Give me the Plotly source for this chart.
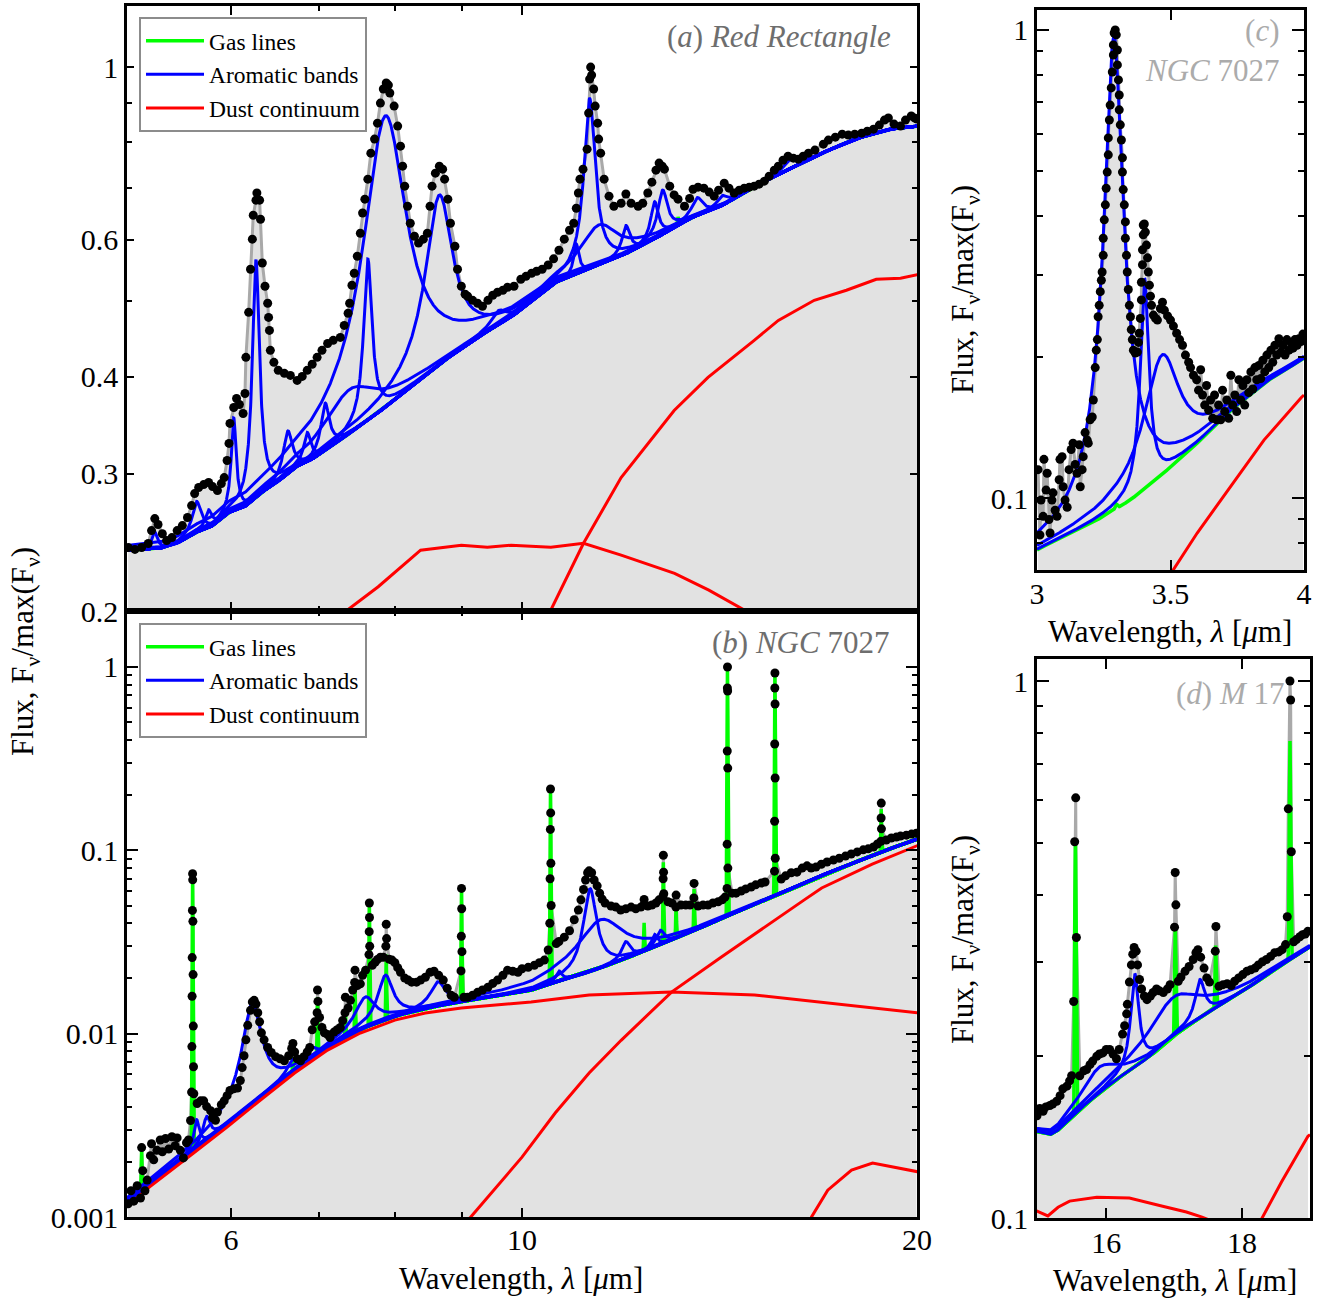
import numpy as np
import plotly.graph_objects as go

# ===================== DATA =====================
# ---- Panel (a): Red Rectangle ----
A_OBS_WL = [5.01, 5.07, 5.13, 5.19, 5.22, 5.25, 5.28, 5.32, 5.36, 5.41, 5.46, 5.51, 5.56, 5.60, 5.63, 5.67, 5.72, 5.77, 5.81, 5.86,
            5.90, 5.93, 5.96, 5.98, 5.99, 6.03, 6.06, 6.09, 6.13, 6.15, 6.16, 6.19, 6.21, 6.23, 6.24, 6.27, 6.28, 6.31, 6.32, 6.34,
            6.37, 6.40, 6.41, 6.42, 6.43, 6.47, 6.52, 6.59, 6.66, 6.74, 6.80, 6.86, 6.92, 6.98, 7.04, 7.11, 7.18, 7.27, 7.32, 7.37,
            7.39, 7.42, 7.45, 7.49, 7.53, 7.56, 7.59, 7.63, 7.67, 7.72, 7.76, 7.80, 7.84, 7.88, 7.91, 7.93, 7.99, 8.04, 8.08, 8.11,
            8.14, 8.18, 8.22, 8.28, 8.34, 8.41, 8.47, 8.51, 8.54, 8.59, 8.65, 8.70, 8.73, 8.78, 8.82, 8.89, 8.93, 8.99, 9.05, 9.09,
            9.17, 9.25, 9.33, 9.42, 9.50, 9.58, 9.67, 9.75, 9.86, 9.98, 10.07, 10.17, 10.26, 10.36, 10.47, 10.57, 10.67, 10.77, 10.87, 10.95,
            11.00, 11.04, 11.07, 11.13, 11.21, 11.24, 11.26, 11.28, 11.30, 11.34, 11.37, 11.42, 11.44, 11.48, 11.55, 11.65, 11.75, 11.90, 12.00, 12.11,
            12.26, 12.36, 12.47, 12.56, 12.65, 12.72, 12.79, 12.84, 12.96, 13.06, 13.15, 13.30, 13.42, 13.50, 13.62, 13.76, 13.89, 14.01, 14.12, 14.26,
            14.38, 14.51, 14.64, 14.77, 14.90, 15.03, 15.16, 15.30, 15.43, 15.57, 15.68, 15.81, 15.95, 16.10, 16.24, 16.38, 16.53, 16.72, 16.97, 17.12,
            17.33, 17.54, 17.73, 17.93, 18.15, 18.33, 18.53, 18.72, 18.89, 19.02, 19.21, 19.43, 19.60, 19.80, 19.92, 20.0]
A_OBS_FLUX = [0.2413, 0.240, 0.2413, 0.2442, 0.2537, 0.2629, 0.2583, 0.2514, 0.2463, 0.2485, 0.2537, 0.2575, 0.2637, 0.2732, 0.2831, 0.2882, 0.2907, 0.2925, 0.289, 0.2857,
              0.2916, 0.2968, 0.3122, 0.3284, 0.3484, 0.3652, 0.3751, 0.3685, 0.3588, 0.3806, 0.4236, 0.4840, 0.5498, 0.6009, 0.6450, 0.6744, 0.689, 0.6744, 0.6375, 0.5600,
              0.5228, 0.4971, 0.4768, 0.4588, 0.4325, 0.4174, 0.4076, 0.4040, 0.4016, 0.3957, 0.4004, 0.4076, 0.415, 0.4236, 0.4325, 0.4414, 0.4455, 0.4494, 0.4656, 0.4826,
              0.4971, 0.5244, 0.5433, 0.5713, 0.6115, 0.6494, 0.6764, 0.7177, 0.7751, 0.808, 0.8471, 0.8989, 0.937, 0.9538, 0.948, 0.926, 0.891, 0.8397, 0.7913, 0.7458,
              0.703, 0.6625, 0.63, 0.6062, 0.5942, 0.6009, 0.6115, 0.6625, 0.703, 0.7305, 0.7458, 0.7392, 0.7177, 0.6764, 0.63, 0.5884, 0.5498, 0.5228, 0.5106, 0.5075,
              0.5015, 0.4971, 0.4927, 0.5015, 0.509, 0.5136, 0.5167, 0.5212, 0.5228, 0.5337, 0.5384, 0.5433, 0.5465, 0.5498, 0.5567, 0.567, 0.5815, 0.6009, 0.617, 0.63,
              0.6586, 0.689, 0.7177, 0.7392, 0.7843, 0.8727, 0.9651, 1.0, 0.9766, 0.937, 0.891, 0.8471, 0.808, 0.7751, 0.7177, 0.6825, 0.6625, 0.6684, 0.6868, 0.6684,
              0.6625, 0.6684, 0.689, 0.7114, 0.737, 0.7527, 0.7458, 0.7392, 0.703, 0.685, 0.6764, 0.6625, 0.678, 0.6967, 0.7009, 0.6988, 0.6908, 0.6825, 0.6947, 0.7093,
              0.6988, 0.689, 0.6947, 0.6988, 0.7009, 0.703, 0.7072, 0.7135, 0.724, 0.737, 0.7458, 0.759, 0.768, 0.7637, 0.7614, 0.768, 0.7751, 0.7822, 0.796, 0.8056,
              0.8127, 0.82, 0.8176, 0.82, 0.8224, 0.8273, 0.8322, 0.8423, 0.8547, 0.860, 0.8448, 0.8397, 0.8547, 0.8651, 0.860, 0.8574]
A_CONT_WL = [5.0, 5.30, 5.46, 5.62, 5.79, 5.96, 6.14, 6.32, 6.51, 6.71, 6.90, 7.32, 7.76, 8.22, 8.73, 9.25, 9.81, 10.58, 11.23,
             11.90, 12.61, 13.39, 14.19, 15.04, 15.97, 16.92, 17.93, 19.04, 20.07]
A_CONT_FLUX = [0.2394, 0.2408, 0.2444, 0.2518, 0.2563, 0.2672, 0.2719, 0.2835, 0.2928, 0.306, 0.3125, 0.3345, 0.359, 0.388, 0.420, 0.4497, 0.477, 0.528, 0.550,
               0.5715, 0.601, 0.638, 0.663, 0.703, 0.739, 0.775, 0.808, 0.832, 0.840]
A_BAND_CENTER = [5.25, 5.65, 5.77, 6.03, 6.27, 6.63, 6.86, 7.08, 7.40, 7.63, 7.87, 8.65, 9.6, 11.0, 11.26, 11.45, 12.0, 12.62, 12.80, 13.6, 14.2, 16.0]
A_BAND_FWHM = [0.06, 0.10, 0.08, 0.06, 0.08, 0.12, 0.10, 0.12, 0.8, 0.12, 0.6, 0.45, 0.3, 0.12, 0.24, 0.9, 0.2, 0.2, 0.25, 0.3, 0.3, 0.4]
A_BAND_PEAK = [0.012, 0.024, 0.014, 0.085, 0.285, 0.04, 0.028, 0.048, 0.047, 0.215, 0.50, 0.27, 0.02, 0.05, 0.36, 0.07, 0.05, 0.07, 0.085, 0.035, 0.02, 0.02]
A_GAS_CENTER = [13.15]
A_GAS_FWHM = [0.03]
A_GAS_PEAK = [0.015]
A_DUST1_WL = [7.2, 7.36, 7.77, 8.37, 8.99, 9.41, 9.81, 10.52, 11.14, 11.90, 13.07, 13.88, 14.77, 15.3]
A_DUST1_FLUX = [0.195, 0.2006, 0.2149, 0.2394, 0.243, 0.2415, 0.243, 0.2415, 0.2444, 0.236, 0.2236, 0.2127, 0.2006, 0.192]
A_DUST2_WL = [10.2, 10.52, 11.14, 11.90, 13.06, 13.86, 15.03, 15.68, 16.70, 17.67, 18.62, 19.43, 20.07]
A_DUST2_FLUX = [0.188, 0.2006, 0.2444, 0.2968, 0.362, 0.3992, 0.4455, 0.4726, 0.5015, 0.5167, 0.5337, 0.5352, 0.5416]

# ---- Panel (b): NGC 7027 (5-20 um) ----
B_OBS_WL = [5.01, 5.035, 5.06, 5.09, 5.12, 5.13, 5.14, 5.16, 5.18, 5.21, 5.22, 5.24, 5.27, 5.30, 5.32, 5.35, 5.38, 5.41, 5.44, 5.46,
            5.49, 5.52, 5.55, 5.57, 5.59, 5.600, 5.603, 5.605, 5.606, 5.608, 5.610, 5.611, 5.613, 5.615, 5.617, 5.619, 5.622, 5.655, 5.69, 5.72,
            5.75, 5.79, 5.81, 5.84, 5.86, 5.90, 5.93, 5.96, 5.99, 6.03, 6.07, 6.10, 6.12, 6.14, 6.16, 6.18, 6.21, 6.23, 6.25, 6.27,
            6.29, 6.31, 6.33, 6.36, 6.40, 6.44, 6.49, 6.54, 6.59, 6.64, 6.675, 6.69, 6.71, 6.74, 6.78, 6.82, 6.86, 6.89, 6.92, 6.95,
            6.980, 6.985, 6.990, 7.01, 7.04, 7.07, 7.11, 7.14, 7.19, 7.23, 7.27, 7.30, 7.330, 7.335, 7.37, 7.40, 7.43, 7.455, 7.46, 7.49,
            7.53, 7.56, 7.60, 7.645, 7.648, 7.650, 7.652, 7.655, 7.69, 7.73, 7.76, 7.80, 7.84, 7.875, 7.880, 7.885, 7.92, 7.96, 8.00, 8.04,
            8.08, 8.14, 8.19, 8.24, 8.31, 8.37, 8.44, 8.51, 8.57, 8.64, 8.71, 8.77, 8.83, 8.88, 8.985, 8.990, 8.993, 8.996, 9.000, 9.03,
            9.09, 9.17, 9.25, 9.33, 9.42, 9.50, 9.58, 9.67, 9.75, 9.84, 9.93, 10.00, 10.11, 10.22, 10.31, 10.40, 10.47, 10.500, 10.505, 10.510,
            10.513, 10.516, 10.520, 10.525, 10.62, 10.67, 10.77, 10.87, 10.96, 11.04, 11.09, 11.14, 11.18, 11.22, 11.25, 11.30, 11.35, 11.41, 11.46, 11.51,
            11.57, 11.69, 11.79, 11.89, 12.00, 12.11, 12.21, 12.32, 12.385, 12.39, 12.47, 12.56, 12.65, 12.72, 12.805, 12.810, 12.815, 12.820, 12.825, 12.92,
            13.01, 13.10, 13.105, 13.22, 13.33, 13.43, 13.520, 13.525, 13.62, 13.74, 13.86, 13.98, 14.11, 14.21, 14.28, 14.330, 14.333, 14.336, 14.339, 14.342,
            14.345, 14.348, 14.351, 14.46, 14.56, 14.69, 14.81, 14.95, 15.07, 15.22, 15.32, 15.575, 15.578, 15.581, 15.584, 15.587, 15.590, 15.593, 15.596, 15.76,
            15.88, 16.04, 16.20, 16.35, 16.49, 16.61, 16.75, 16.91, 17.08, 17.27, 17.45, 17.64, 17.82, 18.01, 18.20, 18.36, 18.53, 18.66, 18.775, 18.780,
            18.785, 18.790, 18.95, 19.12, 19.29, 19.43, 19.63, 19.81, 19.98]
B_OBS_FLUX = [0.00118, 0.00139, 0.00122, 0.00148, 0.00127, 0.00239, 0.00179, 0.00139, 0.00159, 0.00216, 0.00251, 0.00205, 0.00231, 0.00263, 0.00227, 0.00268, 0.00235, 0.00274, 0.00245, 0.00270,
              0.00231, 0.00210, 0.00254, 0.00263, 0.00336, 0.0048, 0.0085, 0.016, 0.026, 0.047, 0.0745, 0.069, 0.041, 0.021, 0.011, 0.0066, 0.0047, 0.00416, 0.00430, 0.00430,
              0.00400, 0.00380, 0.00348, 0.00337, 0.00374, 0.00410, 0.00430, 0.00459, 0.00490, 0.00500, 0.00505, 0.00555, 0.00653, 0.00758, 0.00925, 0.0111, 0.0134, 0.0149, 0.0152, 0.0145,
              0.0130, 0.0116, 0.0101, 0.00925, 0.0084, 0.0079, 0.00749, 0.0073, 0.00711, 0.00758, 0.0083, 0.00885, 0.00795, 0.0073, 0.00711, 0.00749, 0.00795, 0.0084, 0.0105, 0.0116,
              0.0130, 0.0173, 0.0150, 0.01226, 0.0108, 0.0101, 0.0099, 0.00953, 0.0102, 0.0105, 0.0108, 0.0118, 0.0130, 0.0158, 0.0138, 0.0152, 0.0173, 0.0190, 0.0222, 0.0183,
              0.0187, 0.0208, 0.0222, 0.027, 0.036, 0.0516, 0.043, 0.030, 0.0236, 0.0246, 0.0254, 0.0261, 0.0261, 0.030, 0.0395, 0.033, 0.0255, 0.0252, 0.0244, 0.0229,
              0.0216, 0.0201, 0.0196, 0.0191, 0.0191, 0.0196, 0.0203, 0.0216, 0.0219, 0.0208, 0.0196, 0.0177, 0.0162, 0.0158, 0.022, 0.034, 0.062, 0.048, 0.028, 0.0158,
              0.0158, 0.0162, 0.0168, 0.0173, 0.0179, 0.0188, 0.0196, 0.0208, 0.0222, 0.0219, 0.0216, 0.0226, 0.0230, 0.0236, 0.0244, 0.0252, 0.0286, 0.040, 0.070, 0.13,
              0.216, 0.16, 0.085, 0.050, 0.0310, 0.0318, 0.0336, 0.0364, 0.0418, 0.0472, 0.0537, 0.0611, 0.0689, 0.0755, 0.0773, 0.0755, 0.0689, 0.0640, 0.0584, 0.0542,
              0.0516, 0.0497, 0.0490, 0.0472, 0.0480, 0.0490, 0.0480, 0.0490, 0.0505, 0.054, 0.0497, 0.0503, 0.0516, 0.0537, 0.056, 0.070, 0.094, 0.076, 0.058, 0.0524,
              0.0516, 0.049, 0.057, 0.0503, 0.0503, 0.0503, 0.055, 0.066, 0.0497, 0.0503, 0.0503, 0.0516, 0.0524, 0.0537, 0.0556, 0.062, 0.108, 0.348, 0.768, 1.0,
              0.740, 0.281, 0.080, 0.0584, 0.0584, 0.060, 0.0616, 0.0631, 0.0648, 0.0663, 0.0672, 0.077, 0.144, 0.380, 0.768, 0.927, 0.628, 0.248, 0.0905, 0.0697,
              0.0726, 0.0755, 0.0760, 0.0800, 0.0823, 0.0800, 0.081, 0.0839, 0.0864, 0.0885, 0.0905, 0.0930, 0.0955, 0.0980, 0.1006, 0.1019, 0.1042, 0.1083, 0.112, 0.150,
              0.181, 0.131, 0.1138, 0.1167, 0.1181, 0.1196, 0.1210, 0.1226, 0.1240]
B_CONT_WL = [5.0, 5.2, 5.62, 5.96, 6.32, 6.71, 7.11, 7.53, 8.0, 8.44, 8.99, 9.53, 10.16, 10.6, 11.25, 11.9, 12.61, 13.39, 14.19,
             15.04, 16.0, 17.0, 18.0, 19.0, 20.07]
B_CONT_FLUX = [0.00122, 0.00152, 0.00232, 0.00322, 0.00452, 0.00635, 0.0085, 0.0106, 0.0125, 0.0138, 0.0150, 0.0160, 0.0173, 0.0192, 0.0217, 0.0252, 0.0297, 0.0354, 0.0425,
               0.051, 0.061, 0.074, 0.087, 0.101, 0.116]
B_BAND_CENTER = [5.65, 5.75, 6.23, 6.69, 6.92, 7.60, 7.87, 8.63, 10.67, 11.27, 11.50, 12.0, 12.62, 12.75]
B_BAND_FWHM = [0.06, 0.08, 0.20, 0.15, 0.12, 0.30, 0.22, 0.25, 0.12, 0.25, 1.0, 0.2, 0.15, 0.2]
B_BAND_PEAK = [0.0010, 0.0009, 0.0105, 0.0010, 0.0010, 0.0050, 0.0089, 0.0050, 0.0025, 0.040, 0.019, 0.006, 0.005, 0.006]
B_GAS_CENTER = [5.13, 5.610, 6.69, 6.985, 7.335, 7.46, 7.650, 7.880, 8.993, 10.513, 12.39, 12.815, 13.105, 13.525, 14.341, 15.586, 18.783]
B_GAS_PEAK = [0.0009, 0.070, 0.0012, 0.008, 0.004, 0.008, 0.040, 0.015, 0.048, 0.190, 0.012, 0.055, 0.018, 0.025, 0.94, 0.86, 0.07]
B_DUST1_WL = [5.0, 5.2, 5.62, 5.96, 6.32, 6.71, 7.11, 7.53, 8.0, 8.44, 8.99, 9.53, 10.16, 11.25, 13.0, 15.04, 16.92, 20.07]
B_DUST1_FLUX = [0.00114, 0.001456, 0.002233, 0.003094, 0.004345, 0.0061, 0.00814, 0.01008, 0.01186, 0.01296, 0.0138, 0.01432, 0.01487, 0.01625, 0.01686, 0.01625, 0.01487, 0.01296]
B_DUST2_WL = [9.0, 9.14, 10.0, 10.6, 11.25, 11.9, 13.0, 14.19, 16.4, 16.92, 18.49, 20.07]
B_DUST2_FLUX = [0.0009, 0.001, 0.00212, 0.00369, 0.0061, 0.0092, 0.01686, 0.0262, 0.0535, 0.0623, 0.084, 0.107]
B_DUST3_WL = [16.5, 16.62, 17.1, 17.83, 18.5, 20.07]
B_DUST3_FLUX = [0.0009, 0.001, 0.0014, 0.0018, 0.00197, 0.00176]

# ---- Panel (c): NGC 7027 (3-4 um) ----
C_OBS_WL = [3.004, 3.011, 3.015, 3.023, 3.026, 3.034, 3.038, 3.045, 3.049, 3.056, 3.060, 3.068, 3.075, 3.083, 3.086, 3.094, 3.098, 3.105, 3.113, 3.120,
            3.128, 3.135, 3.143, 3.150, 3.158, 3.162, 3.169, 3.173, 3.180, 3.188, 3.192, 3.199, 3.207, 3.211, 3.218, 3.222, 3.226, 3.229, 3.233, 3.237,
            3.241, 3.244, 3.248, 3.248, 3.252, 3.256, 3.259, 3.263, 3.267, 3.267, 3.271, 3.274, 3.278, 3.282, 3.286, 3.286, 3.289, 3.293, 3.297, 3.301,
            3.301, 3.305, 3.308, 3.308, 3.312, 3.316, 3.320, 3.320, 3.323, 3.327, 3.331, 3.331, 3.335, 3.338, 3.342, 3.346, 3.350, 3.353, 3.357, 3.361,
            3.368, 3.376, 3.380, 3.383, 3.387, 3.391, 3.391, 3.395, 3.395, 3.398, 3.398, 3.402, 3.406, 3.410, 3.414, 3.417, 3.421, 3.425, 3.429, 3.436,
            3.444, 3.451, 3.462, 3.470, 3.477, 3.489, 3.500, 3.511, 3.523, 3.534, 3.545, 3.556, 3.568, 3.575, 3.586, 3.598, 3.605, 3.613, 3.620, 3.628,
            3.635, 3.643, 3.650, 3.658, 3.665, 3.673, 3.680, 3.688, 3.695, 3.703, 3.711, 3.718, 3.726, 3.733, 3.741, 3.748, 3.756, 3.763, 3.771, 3.778,
            3.786, 3.793, 3.801, 3.808, 3.816, 3.823, 3.831, 3.838, 3.846, 3.853, 3.861, 3.868, 3.876, 3.883, 3.891, 3.898, 3.906, 3.914, 3.921, 3.929,
            3.936, 3.944, 3.951, 3.959, 3.966, 3.974, 3.981, 3.989, 3.996]
C_OBS_FLUX = [0.115, 0.0834, 0.0990, 0.0914, 0.121, 0.104, 0.113, 0.0900, 0.0842, 0.099, 0.1026, 0.0942, 0.0914, 0.1094, 0.121, 0.1226, 0.1057, 0.099, 0.0956, 0.115,
              0.127, 0.131, 0.118, 0.113, 0.130, 0.1057, 0.115, 0.1226, 0.138, 0.133, 0.131, 0.147, 0.149, 0.162, 0.190, 0.207, 0.218, 0.244, 0.258, 0.276,
              0.292, 0.304, 0.330, 0.359, 0.393, 0.423, 0.459, 0.497, 0.541, 0.588, 0.642, 0.691, 0.752, 0.813, 0.884, 0.929, 0.985, 1.0, 0.976, 0.906,
              0.842, 0.782, 0.726, 0.675, 0.627, 0.582, 0.533, 0.497, 0.456, 0.423, 0.389, 0.359, 0.330, 0.304, 0.279, 0.258, 0.244, 0.229, 0.218, 0.207,
              0.204, 0.205, 0.215, 0.225, 0.242, 0.265, 0.289, 0.315, 0.339, 0.365, 0.383, 0.385, 0.370, 0.347, 0.326, 0.304, 0.285, 0.270, 0.258, 0.246,
              0.242, 0.240, 0.254, 0.262, 0.252, 0.245, 0.240, 0.233, 0.225, 0.218, 0.212, 0.202, 0.195, 0.190, 0.183, 0.179, 0.170, 0.188, 0.166, 0.158,
              0.174, 0.154, 0.162, 0.148, 0.166, 0.147, 0.158, 0.147, 0.170, 0.153, 0.162, 0.148, 0.183, 0.158, 0.166, 0.153, 0.179, 0.162, 0.174, 0.158,
              0.179, 0.168, 0.186, 0.171, 0.190, 0.179, 0.192, 0.180, 0.197, 0.186, 0.202, 0.190, 0.207, 0.195, 0.212, 0.202, 0.219, 0.205, 0.212, 0.202,
              0.218, 0.207, 0.215, 0.209, 0.218, 0.212, 0.219, 0.216, 0.224]
C_CONT_WL = [3.0, 3.011, 3.098, 3.226, 3.35, 3.474, 3.60, 3.726, 3.85, 3.99, 4.0]
C_CONT_FLUX = [0.0775, 0.0782, 0.0825, 0.0898, 0.099, 0.113, 0.131, 0.154, 0.176, 0.197, 0.199]
C_BAND_CENTER = [3.288, 3.403, 3.47]
C_BAND_FWHM = [0.053, 0.030, 0.14]
C_BAND_PEAK = [0.88, 0.19, 0.09]
C_GAS_CENTER = [3.297]
C_GAS_FWHM = [0.01]
C_GAS_PEAK = [0.002]
C_DUST_WL = [3.49, 3.51, 3.60, 3.726, 3.85, 3.99, 4.0]
C_DUST_FLUX = [0.067, 0.0702, 0.0842, 0.1057, 0.133, 0.164, 0.166]

# ---- Panel (d): M 17 (15-19 um) ----
D_OBS_WL = [14.98, 15.02, 15.07, 15.11, 15.17, 15.21, 15.27, 15.32, 15.36, 15.42, 15.46, 15.49, 15.52, 15.535, 15.55, 15.56, 15.61, 15.67, 15.71, 15.76,
            15.80, 15.86, 15.90, 15.95, 16.00, 16.05, 16.10, 16.15, 16.19, 16.24, 16.27, 16.30, 16.31, 16.34, 16.37, 16.39, 16.41, 16.44, 16.46, 16.49,
            16.52, 16.56, 16.60, 16.65, 16.69, 16.74, 16.78, 16.84, 16.90, 16.94, 17.005, 17.015, 17.025, 17.06, 17.10, 17.16, 17.22, 17.28, 17.32, 17.35,
            17.39, 17.44, 17.48, 17.52, 17.605, 17.615, 17.66, 17.72, 17.78, 17.84, 17.89, 17.95, 18.01, 18.07, 18.13, 18.19, 18.24, 18.30, 18.36, 18.42,
            18.48, 18.54, 18.59, 18.64, 18.665, 18.68, 18.705, 18.715, 18.725, 18.76, 18.80, 18.85, 18.89, 18.93, 18.97]
D_OBS_FLUX = [0.155, 0.160, 0.158, 0.161, 0.162, 0.163, 0.165, 0.169, 0.174, 0.176, 0.180, 0.184, 0.253, 0.502, 0.606, 0.333, 0.184, 0.188, 0.189, 0.193,
              0.196, 0.200, 0.202, 0.203, 0.206, 0.206, 0.202, 0.198, 0.206, 0.220, 0.228, 0.240, 0.250, 0.275, 0.296, 0.310, 0.319, 0.314, 0.296, 0.278,
              0.267, 0.259, 0.255, 0.259, 0.263, 0.267, 0.265, 0.263, 0.267, 0.272, 0.348, 0.440, 0.383, 0.276, 0.281, 0.288, 0.294, 0.303, 0.312, 0.316,
              0.306, 0.292, 0.280, 0.275, 0.314, 0.349, 0.270, 0.272, 0.273, 0.271, 0.276, 0.280, 0.284, 0.288, 0.290, 0.292, 0.296, 0.300, 0.303, 0.307,
              0.312, 0.313, 0.316, 0.323, 0.364, 0.578, 1.0, 0.922, 0.481, 0.327, 0.330, 0.334, 0.337, 0.338, 0.342]
D_CONT_WL = [14.98, 15.17, 15.27, 15.61, 16.09, 16.59, 17.07, 17.56, 18.06, 18.54, 18.93, 19.0]
D_CONT_FLUX = [0.145, 0.143, 0.145, 0.1595, 0.179, 0.1975, 0.222, 0.2445, 0.2665, 0.294, 0.316, 0.320]
D_BAND_CENTER = [15.9, 16.42, 17.0, 17.38]
D_BAND_FWHM = [0.6, 0.13, 0.9, 0.16]
D_BAND_PEAK = [0.02, 0.094, 0.04, 0.042]
D_GAS_CENTER = [15.545, 17.015, 17.61, 18.705]
D_GAS_FWHM = [0.02, 0.02, 0.02, 0.02]
D_GAS_PEAK = [0.35, 0.13, 0.075, 0.47]
D_DUST1_WL = [14.9, 14.98, 15.14, 15.29, 15.46, 15.86, 16.34, 16.83, 17.18, 17.41, 17.7]
D_DUST1_FLUX = [0.1040, 0.1030, 0.1009, 0.1047, 0.1075, 0.1093, 0.1089, 0.1052, 0.1026, 0.1004, 0.097]
D_DUST2_WL = [18.2, 18.29, 18.58, 18.97, 19.0]
D_DUST2_FLUX = [0.095, 0.0998, 0.1167, 0.142, 0.143]

# ===================== STYLE =====================
SERIF = "Liberation Serif"
GREEN, BLUE, RED = "#00ff00", "#0000ff", "#ff0000"
FILL, DATALINE = "#e2e2e2", "#a9a9a9"
W, H = 1323, 1299
TICK_SIZE, TITLE_SIZE, LABEL_SIZE = 30, 31, 31


def drude(wl, c, fwhm, peak):
    g = fwhm / c
    return peak * g ** 2 / ((wl / c - c / wl) ** 2 + g ** 2)


def gauss(wl, c, fwhm, peak):
    s = fwhm / 2.3548
    return peak * np.exp(-0.5 * ((wl - c) / s) ** 2)


def make_cont(cw, cf):
    lw, lf = np.log(np.asarray(cw)), np.log(np.asarray(cf))
    return lambda wl: np.exp(np.interp(np.log(wl), lw, lf))


fig = go.Figure()


def add_panel(xa, ya, obs_wl, obs_fl, cont_wl, cont_fl, bands, gases, dusts, grid, floor, legend=None):
    wl = np.asarray(obs_wl, float)
    fl = np.asarray(obs_fl, float)
    o = np.argsort(wl, kind="stable")
    wl, fl = wl[o], fl[o]
    cont = make_cont(cont_wl, cont_fl)
    common = dict(xaxis=xa, yaxis=ya, hoverinfo="skip")
    # filled area under the spectrum
    fig.add_trace(go.Scatter(x=[wl[0], wl[-1]], y=[floor, floor], mode="lines",
                             line=dict(width=0, color=FILL), showlegend=False, **common))
    fig.add_trace(go.Scatter(x=wl, y=fl, mode="lines", fill="tonexty", fillcolor=FILL,
                             line=dict(color=DATALINE, width=3), showlegend=False, **common))
    # gas lines
    for i, (c, fw, pk) in enumerate(gases):
        g = np.unique(np.concatenate([grid, c + np.linspace(-3 * fw, 3 * fw, 61)]))
        g = g[(g >= grid[0]) & (g <= grid[-1])]
        fig.add_trace(go.Scatter(x=g, y=cont(g) + gauss(g, c, fw, pk), mode="lines",
                                 line=dict(color=GREEN, width=3.5), name="Gas lines",
                                 showlegend=(legend is not None and i == 0), legend=legend or "legend",
                                 legendrank=1, **common))
    # aromatic bands
    for i, (c, fw, pk) in enumerate(bands):
        fig.add_trace(go.Scatter(x=grid, y=cont(grid) + drude(grid, c, fw, pk), mode="lines",
                                 line=dict(color=BLUE, width=3), name="Aromatic bands",
                                 showlegend=(legend is not None and i == 0), legend=legend or "legend",
                                 legendrank=2, **common))
    # dust continuum components
    for i, (dw, df) in enumerate(dusts):
        fig.add_trace(go.Scatter(x=dw, y=df, mode="lines", line=dict(color=RED, width=3),
                                 name="Dust continuum",
                                 showlegend=(legend is not None and i == 0), legend=legend or "legend",
                                 legendrank=3, **common))
    # observed points
    fig.add_trace(go.Scatter(x=wl, y=fl, mode="markers", marker=dict(color="black", size=9),
                             showlegend=False, **common))


grid_ab = np.geomspace(5.0, 20.0, 4000)
add_panel("x", "y", A_OBS_WL, A_OBS_FLUX, A_CONT_WL, A_CONT_FLUX,
          list(zip(A_BAND_CENTER, A_BAND_FWHM, A_BAND_PEAK)),
          list(zip(A_GAS_CENTER, A_GAS_FWHM, A_GAS_PEAK)),
          [(A_DUST1_WL, A_DUST1_FLUX), (A_DUST2_WL, A_DUST2_FLUX)],
          grid_ab, 0.1, legend="legend")
add_panel("x2", "y2", B_OBS_WL, B_OBS_FLUX, B_CONT_WL, B_CONT_FLUX,
          list(zip(B_BAND_CENTER, B_BAND_FWHM, B_BAND_PEAK)),
          [(c, 0.0015 * c, p) for c, p in zip(B_GAS_CENTER, B_GAS_PEAK)],
          [(B_DUST1_WL, B_DUST1_FLUX), (B_DUST2_WL, B_DUST2_FLUX), (B_DUST3_WL, B_DUST3_FLUX)],
          grid_ab, 1e-4, legend="legend2")
add_panel("x3", "y3", C_OBS_WL, C_OBS_FLUX, C_CONT_WL, C_CONT_FLUX,
          list(zip(C_BAND_CENTER, C_BAND_FWHM, C_BAND_PEAK)),
          list(zip(C_GAS_CENTER, C_GAS_FWHM, C_GAS_PEAK)),
          [(C_DUST_WL, C_DUST_FLUX)],
          np.linspace(3.0, 4.0, 2000), 0.03)
add_panel("x4", "y4", D_OBS_WL, D_OBS_FLUX, D_CONT_WL, D_CONT_FLUX,
          list(zip(D_BAND_CENTER, D_BAND_FWHM, D_BAND_PEAK)),
          list(zip(D_GAS_CENTER, D_GAS_FWHM, D_GAS_PEAK)),
          [(D_DUST1_WL, D_DUST1_FLUX), (D_DUST2_WL, D_DUST2_FLUX)],
          np.linspace(14.98, 19.0, 2000), 0.05)


def ax(**kw):
    base = dict(showline=True, linecolor="black", linewidth=2.5, mirror="allticks", ticks="inside",
                tickwidth=2, tickcolor="black", ticklen=9, showgrid=False, zeroline=False, automargin=False,
                tickfont=dict(family=SERIF, size=TICK_SIZE, color="black"), tickmode="array")
    base.update(kw)
    return base


def minor(vals, n=5):
    return dict(tickmode="array", tickvals=vals, ticks="inside", ticklen=n, tickwidth=1.5, tickcolor="black")


def px_x(p):
    return p / W


def px_y(p):
    return 1 - p / H


log_minor_b = [k * 10.0 ** e for e in (-3, -2, -1) for k in range(2, 10)]
sub_minor = [0.2, 0.3, 0.4, 0.5, 0.6, 0.7, 0.8, 0.9]
leg_style = dict(xanchor="left", yanchor="top", bgcolor="rgba(255,255,255,0.9)", traceorder="normal",
                 bordercolor="#8c8c8c", borderwidth=2, font=dict(family=SERIF, size=23.5, color="black"),
                 itemwidth=58, tracegroupgap=2)

fig.update_layout(
    width=W, height=H, margin=dict(l=0, r=0, t=0, b=0, autoexpand=False),
    paper_bgcolor="white", plot_bgcolor="white",
    font=dict(family=SERIF, color="black"),
    xaxis=ax(type="log", range=[np.log10(5), np.log10(20)], domain=[px_x(127), px_x(917)], anchor="y",
             tickvals=[6, 10, 20], ticktext=["6", "10", "20"], showticklabels=False, minor=minor([7, 8, 9])),
    yaxis=ax(type="log", range=[np.log10(0.2), np.log10(1.198)], domain=[px_y(611), px_y(6)], anchor="x",
             tickvals=[0.2, 0.3, 0.4, 0.6, 1], ticktext=["0.2", "0.3", "0.4", "0.6", "1"], ticklen=7,
             minor=minor([0.5, 0.7, 0.8, 0.9])),
    xaxis2=ax(type="log", range=[np.log10(5), np.log10(20)], domain=[px_x(127), px_x(917)], anchor="y2",
              tickvals=[6, 10, 20], ticktext=["6", "10", "20"], minor=minor([7, 8, 9]), ticklabelstandoff=-6),
    yaxis2=ax(type="log", range=[-3, np.log10(2.02)], domain=[px_y(1217), px_y(611)], anchor="x2",
              tickvals=[0.001, 0.01, 0.1, 1], ticktext=["0.001", "0.01", "0.1", "1"], ticklen=11,
              minor=minor(log_minor_b)),
    xaxis3=ax(range=[3.0, 4.0], domain=[px_x(1037), px_x(1304)], anchor="y3",
              tickvals=[3, 3.5, 4], ticktext=["3", "3.5", "4"], ticklen=10, ticklabelstandoff=-5),
    yaxis3=ax(type="log", range=[np.log10(0.0702), np.log10(1.103)], domain=[px_y(570), px_y(10)], anchor="x3",
              tickvals=[0.1, 1], ticktext=["0.1", "1"], ticklen=12, minor=minor([0.08, 0.09] + sub_minor, 6)),
    xaxis4=ax(range=[14.98, 19.0], domain=[px_x(1037), px_x(1310)], anchor="y4",
              tickvals=[16, 18], ticktext=["16", "18"], ticklen=10, ticklabelstandoff=-4),
    yaxis4=ax(type="log", range=[-1, np.log10(1.099)], domain=[px_y(1218), px_y(659)], anchor="x4",
              tickvals=[0.1, 1], ticktext=["0.1", "1"], ticklen=12, minor=minor(sub_minor, 6)),
    legend=dict(x=px_x(139), y=px_y(17), **leg_style),
    legend2=dict(x=px_x(139), y=px_y(623), **leg_style),
)

ann = []
# panel labels
ann.append(dict(text="(<i>a</i>) <i>Red Rectangle</i>", x=px_x(893), y=px_y(36), xanchor="right", yanchor="middle",
                font=dict(family=SERIF, size=LABEL_SIZE, color="#6e6e6e")))
ann.append(dict(text="(<i>b</i>) <i>NGC</i> 7027", x=px_x(891), y=px_y(642), xanchor="right", yanchor="middle",
                font=dict(family=SERIF, size=LABEL_SIZE, color="#6e6e6e")))
ann.append(dict(text="(<i>c</i>)<br><i>NGC</i> 7027", x=px_x(1282), y=px_y(50), xanchor="right", yanchor="middle",
                align="right", font=dict(family=SERIF, size=LABEL_SIZE, color="#ababab")))
ann.append(dict(text="(<i>d</i>) <i>M</i> 17", x=px_x(1286), y=px_y(693), xanchor="right", yanchor="middle",
                font=dict(family=SERIF, size=LABEL_SIZE, color="#ababab")))
# axis titles
ytitle = "Flux, F<sub>ν</sub>/max(F<sub>ν</sub>)"
xtitle = "Wavelength, <i>λ</i> [<i>μ</i>m]"
ann.append(dict(text=ytitle, x=px_x(25), y=px_y(652), textangle=-90, xanchor="center", yanchor="middle",
                font=dict(family=SERIF, size=TITLE_SIZE, color="black")))
ann.append(dict(text=ytitle, x=px_x(965), y=px_y(290), textangle=-90, xanchor="center", yanchor="middle",
                font=dict(family=SERIF, size=TITLE_SIZE, color="black")))
ann.append(dict(text=ytitle, x=px_x(965), y=px_y(940), textangle=-90, xanchor="center", yanchor="middle",
                font=dict(family=SERIF, size=TITLE_SIZE, color="black")))
ann.append(dict(text=xtitle, x=px_x(521), y=px_y(1278), xanchor="center", yanchor="middle",
                font=dict(family=SERIF, size=TITLE_SIZE, color="black")))
ann.append(dict(text=xtitle, x=px_x(1170), y=px_y(632), xanchor="center", yanchor="middle",
                font=dict(family=SERIF, size=TITLE_SIZE, color="black")))
ann.append(dict(text=xtitle, x=px_x(1175), y=px_y(1280), xanchor="center", yanchor="middle",
                font=dict(family=SERIF, size=TITLE_SIZE, color="black")))
for a in ann:
    a.update(xref="paper", yref="paper", showarrow=False)
fig.update_layout(annotations=ann)

fig.write_html("out.html", config={"displayModeBar": False},
               post_script="document.body.style.margin='0px';")
